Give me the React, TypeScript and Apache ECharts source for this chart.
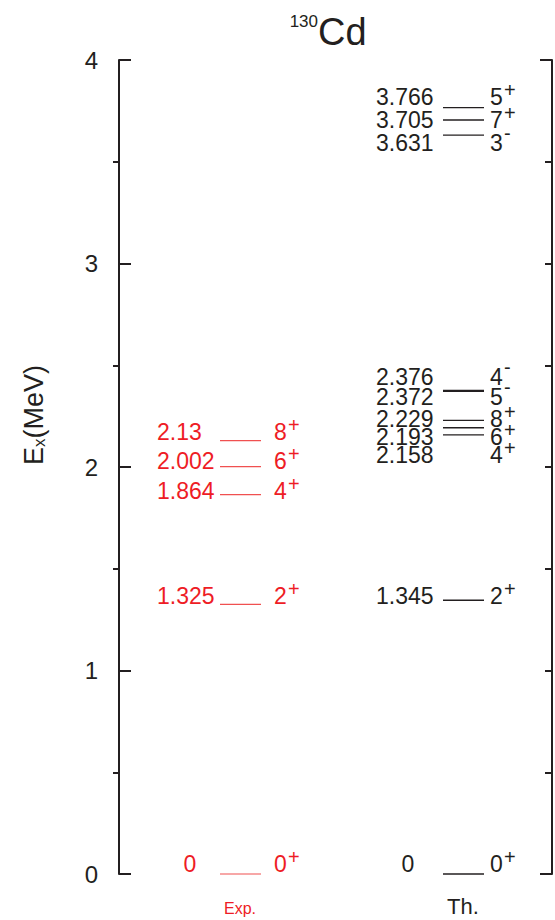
import React, { useEffect, useRef } from "react";
import * as echarts from "echarts";

// ---- data (energies in MeV) ----
const expEnergies = [0, 1.325, 1.864, 2.002, 2.13];
const expSpins = ["0+", "2+", "4+", "6+", "8+"];
const expLabelE = [0.05, 1.366, 1.88, 2.03, 2.17];

const thEnergies = [0, 1.345, 2.158, 2.193, 2.229, 2.372, 2.376, 3.631, 3.705, 3.766];
const thSpins = ["0+", "2+", "4+", "6+", "8+", "5-", "4-", "3-", "7+", "5+"];
const thLabelE = [0.05, 1.364, 2.059, 2.145, 2.236, 2.344, 2.444, 3.593, 3.704, 3.818];

const yTicks = [0, 1, 2, 3, 4];
const columnNames = ["Exp.", "Th."];

const FONT = "'Liberation Sans', Arial, Helvetica, sans-serif";
const RED = "#ee1c25";
const RED_LINE = "#f05050";
const BLACK = "#231f20";

// column layout (x in px from left axis)
const columns = [
  { valueLeft: 38, zeroCenter: 71, lineStart: 101, lineEnd: 142, spinLeft: 155, text: RED, line: RED_LINE, lw: 1.2 },
  { valueLeft: 257, zeroCenter: 289, lineStart: 324, lineEnd: 365, spinLeft: 371, text: BLACK, line: BLACK, lw: 1.4 },
];

function makeRender(colIdx: number, energies: number[], spins: string[]) {
  const col = columns[colIdx];
  return (params: any, api: any) => {
    const e = api.value(0);
    const le = api.value(1);
    const i = api.value(2);
    const p1 = api.coord([col.lineStart, e]);
    const p2 = api.coord([col.lineEnd, e]);
    const isZero = energies[i] === 0;
    const vp = api.coord([isZero ? col.zeroCenter : col.valueLeft, le]);
    const sp = api.coord([col.spinLeft, le]);
    const spin = spins[i];
    const digit = spin.slice(0, -1);
    const sign = spin.slice(-1);
    return {
      type: "group",
      children: [
        {
          type: "line",
          shape: { x1: p1[0], y1: p1[1], x2: p2[0], y2: p2[1] },
          style: { stroke: col.line, lineWidth: col.lw },
        },
        {
          type: "text",
          x: vp[0],
          y: vp[1],
          style: {
            text: String(energies[i]),
            fill: col.text,
            fontSize: 23,
            fontFamily: FONT,
            align: isZero ? "center" : "left",
            verticalAlign: "middle",
          },
        },
        {
          type: "text",
          x: sp[0],
          y: sp[1],
          style: { text: digit, fill: col.text, fontSize: 23, fontFamily: FONT, align: "left", verticalAlign: "middle" },
        },
        {
          type: "text",
          x: sp[0] + 14,
          y: sp[1] - (sign === "+" ? 7 : 10),
          style: { text: sign, fill: col.text, fontSize: 20, fontFamily: FONT, align: "left", verticalAlign: "middle" },
        },
      ],
    };
  };
}

export default function App() {
  const ref = useRef<HTMLDivElement>(null);
  useEffect(() => {
    if (!ref.current) return;
    const chart = echarts.init(ref.current, null, { renderer: "svg" });
    const expData = expEnergies.map((e, i) => [e, expLabelE[i], i]);
    const thData = thEnergies.map((e, i) => [e, thLabelE[i], i]);
    const axisCommon = { type: "value", min: yTicks[0], max: yTicks[yTicks.length - 1], splitLine: { show: false } };
    chart.setOption({
      animation: false,
      backgroundColor: "#ffffff",
      grid: { left: 119, right: 3, top: 60, bottom: 46 },
      xAxis: { type: "value", min: 0, max: 433, show: false },
      yAxis: [
        {
          ...axisCommon,
          position: "left",
          interval: 1,
          axisLine: { show: true, lineStyle: { color: BLACK, width: 2 } },
          axisTick: { show: true, inside: true, length: 12, lineStyle: { color: BLACK, width: 2 } },
          axisLabel: { show: true, fontSize: 24, fontFamily: FONT, color: BLACK, margin: 21 },
        },
        {
          ...axisCommon,
          position: "left",
          interval: 1,
          axisLine: { show: false },
          axisTick: { show: false, inside: false },
          axisLabel: { show: false },
          minorTick: { show: true, splitNumber: 2, length: 6, lineStyle: { color: BLACK, width: 2 } },
        },
        {
          ...axisCommon,
          position: "right",
          interval: 0.5,
          axisLine: { show: true, lineStyle: { color: BLACK, width: 2 } },
          axisTick: { show: true, inside: true, length: 7, lineStyle: { color: BLACK, width: 2 } },
          axisLabel: { show: false },
        },
        {
          ...axisCommon,
          position: "right",
          interval: 4,
          axisLine: { show: false },
          axisTick: { show: true, inside: true, length: 12, lineStyle: { color: BLACK, width: 2 } },
          axisLabel: { show: false },
        },
      ],
      graphic: [
        {
          type: "text",
          x: 318,
          y: 21,
          style: { text: "130", fontSize: 17, fontFamily: FONT, fill: BLACK, align: "right", verticalAlign: "middle" },
        },
        {
          type: "text",
          x: 318,
          y: 32,
          style: { text: "Cd", fontSize: 38, fontFamily: FONT, fill: BLACK, align: "left", verticalAlign: "middle" },
        },
        {
          type: "text",
          x: 34,
          y: 415,
          rotation: Math.PI / 2,
          style: {
            text: "{e|E}{x|x}{m|(MeV)}",
            fontFamily: FONT,
            fill: BLACK,
            align: "center",
            verticalAlign: "middle",
            rich: {
              e: { fontSize: 27, fontFamily: FONT, fill: BLACK },
              x: { fontSize: 17, fontFamily: FONT, fill: BLACK, verticalAlign: "bottom" },
              m: { fontSize: 27, fontFamily: FONT, fill: BLACK },
            },
          },
        },
        {
          type: "text",
          x: 240,
          y: 908,
          style: { text: columnNames[0], fontSize: 16, fontFamily: FONT, fill: RED, align: "center", verticalAlign: "middle" },
        },
        {
          type: "text",
          x: 463,
          y: 906,
          style: { text: columnNames[1], fontSize: 22, fontFamily: FONT, fill: BLACK, align: "center", verticalAlign: "middle" },
        },
      ],
      series: [
        { type: "custom", renderItem: makeRender(0, expEnergies, expSpins), data: expData, encode: { x: -1, y: 0 }, clip: false, silent: true },
        { type: "custom", renderItem: makeRender(1, thEnergies, thSpins), data: thData, encode: { x: -1, y: 0 }, clip: false, silent: true },
      ],
    });
    return () => chart.dispose();
  }, []);
  return <div ref={ref} style={{ position: "fixed", left: 0, top: 0, width: 555, height: 920 }} />;
}
